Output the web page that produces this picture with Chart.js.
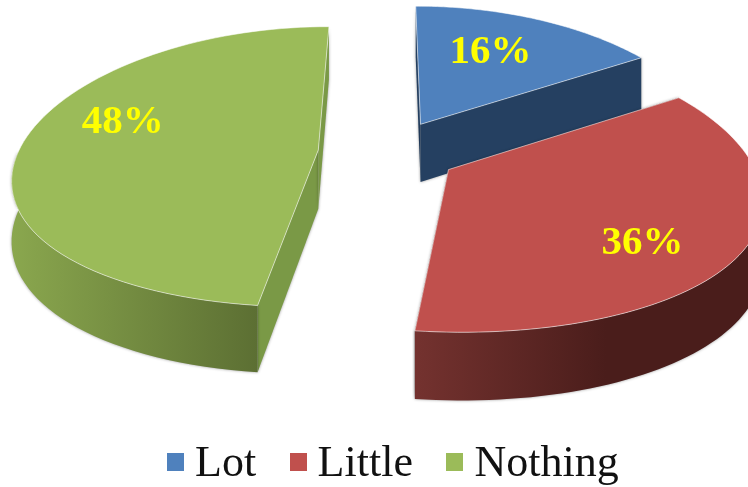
<!DOCTYPE html>
<html>
<head>
<meta charset="utf-8">
<script src="https://cdn.jsdelivr.net/npm/chart.js@4"></script>
<style>
  html, body { margin: 0; background: #fff; }
  #wrap { position: relative; width: 748px; height: 487px; overflow: hidden; }
  #legend { position: absolute; left: 167px; top: 437px; display: flex; align-items: center;
    font: 44px "Liberation Serif", serif; line-height: 50px; color: #111; white-space: nowrap; }
  #legend .item { display: flex; align-items: center; margin-right: 33.5px; }
  #legend .box { width: 17px; height: 18px; margin-right: 11px; }
</style>
</head>
<body>
<div id="wrap">
  <canvas id="pie" width="748" height="487"></canvas>
  <div id="legend"></div>
</div>
<script>
// Data
const categories = ['Lot', 'Little', 'Nothing'];
const shares = [16, 36, 48];

// Colours per slice
const topColors = ['#4f81bd', '#c0504d', '#9bbb59'];
const cutColors = ['#254061', '#4c1e1c', '#7a9946'];
const rimColors = [['#254061', '#254061'], ['#74322f', '#4a1d1b'], ['#8aa74e', '#5c6f33']];
const rimFade = [1, 0.55, 1];

// Fake 3D settings
const perspectiveX = 0.18;  // how much nearer parts grow sideways
const perspectiveY = 0.12;
const tilt = 3.85;          // vertical lens strength, in radius units
const depth = 59;
const explode = 280;        // Chart.js divides arc offset by 4
const labelNudge = [[-4, -7], [25, 26], [-18, -22]];

function project(arc, u, v) {
    const k = 1 / (1 - perspectiveY * v);
    const kx = 1 / (1 - perspectiveX * v);
    return {
        x: arc.x + u * arc.outerRadius * kx,
        y: arc.y + (k - 1) * tilt * arc.outerRadius,
        k: k
    };
}

function planePoint(arc, angle, r) {
    const off = arc.options.offset / 4 / arc.outerRadius;
    const mid = (arc.startAngle + arc.endAngle) / 2;
    return {
        u: Math.cos(mid) * off + Math.cos(angle) * r,
        v: Math.sin(mid) * off + Math.sin(angle) * r
    };
}

function arcPoints(arc) {
    const pts = [];
    const steps = 80;
    for (let i = 0; i <= steps; i++) {
        const a = arc.startAngle + (arc.endAngle - arc.startAngle) * i / steps;
        const p = planePoint(arc, a, 1);
        const pt = project(arc, p.u, p.v);
        pt.front = Math.sin(a) >= 0;
        pts.push(pt);
    }
    return pts;
}

function drawSlice(ctx, arc, i) {
    const c = planePoint(arc, 0, 0);
    const centre = project(arc, c.u, c.v);
    const rim = arcPoints(arc);
    const drop = p => ({ x: p.x, y: p.y + depth * p.k });

    // cut faces
    ctx.save();
    ctx.shadowColor = 'rgba(0,0,0,0.4)';
    ctx.shadowBlur = 3;
    ctx.fillStyle = cutColors[i];
    [rim[0], rim[rim.length - 1]].forEach(edge => {
        ctx.beginPath();
        ctx.moveTo(centre.x, centre.y);
        ctx.lineTo(edge.x, edge.y);
        const a = drop(edge), b = drop(centre);
        ctx.lineTo(a.x, a.y);
        ctx.lineTo(b.x, b.y);
        ctx.closePath();
        ctx.fill();
    });

    // outer wall, only the part facing the viewer
    const front = rim.filter(p => p.front);
    if (front.length) {
        const xs = front.map(p => p.x);
        const grad = ctx.createLinearGradient(Math.min(...xs), 0, Math.max(...xs), 0);
        grad.addColorStop(0, rimColors[i][0]);
        grad.addColorStop(rimFade[i], rimColors[i][1]);
        ctx.fillStyle = grad;
        ctx.beginPath();
        front.forEach((p, n) => n ? ctx.lineTo(p.x, p.y) : ctx.moveTo(p.x, p.y));
        front.slice().reverse().forEach(p => {
            const d = drop(p);
            ctx.lineTo(d.x, d.y);
        });
        ctx.closePath();
        ctx.fill();
    }
    ctx.restore();

    // top face
    ctx.fillStyle = topColors[i];
    ctx.strokeStyle = 'rgba(255,255,255,0.55)';
    ctx.lineWidth = 1;
    ctx.beginPath();
    ctx.moveTo(centre.x, centre.y);
    rim.forEach(p => ctx.lineTo(p.x, p.y));
    ctx.closePath();
    ctx.fill();
    ctx.stroke();
}

function drawValue(ctx, arc, i) {
    const mid = (arc.startAngle + arc.endAngle) / 2;
    const p = planePoint(arc, mid, 0.6);
    const pos = project(arc, p.u, p.v);
    ctx.fillStyle = '#ffff00';
    ctx.font = 'bold 41px "Liberation Serif", serif';
    ctx.textAlign = 'center';
    ctx.textBaseline = 'middle';
    ctx.fillText(shares[i] + '%', pos.x + labelNudge[i][0], pos.y + labelNudge[i][1]);
}

// Chart.js works out the angles and the radius, this only paints them in 3D
const pie3d = {
    id: 'pie3d',
    beforeDatasetsDraw(chart) {
        const ctx = chart.ctx;
        const arcs = chart.getDatasetMeta(0).data;
        arcs.forEach((arc, i) => drawSlice(ctx, arc, i));
        arcs.forEach((arc, i) => drawValue(ctx, arc, i));
        return false;
    }
};

const chart = new Chart(document.getElementById('pie'), {
    type: 'pie',
    data: {
        labels: categories,
        datasets: [{
            data: shares,
            backgroundColor: topColors,
            offset: explode,
            borderWidth: 0,
            clip: false
        }]
    },
    options: {
        responsive: false,
        animation: false,
        radius: 300,
        layout: { padding: { left: 28, bottom: 183 } },
        plugins: { legend: { display: false }, tooltip: { enabled: false } }
    },
    plugins: [pie3d]
});

// HTML legend, Chart.js puts too wide a gap between box and text at this size
const legendEl = document.getElementById('legend');
categories.forEach((name, i) => {
    const item = document.createElement('div');
    item.className = 'item';
    item.innerHTML = `<span class="box" style="background:${topColors[i]}"></span><span>${name}</span>`;
    legendEl.appendChild(item);
});
</script>
</body>
</html>
